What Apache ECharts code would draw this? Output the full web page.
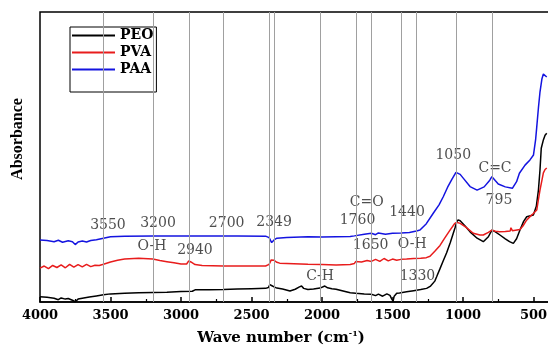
<!DOCTYPE html>
<html>
<head>
<meta charset="utf-8">
<script src="https://cdn.jsdelivr.net/npm/echarts@6/dist/echarts.min.js"></script>
<style>
  html, body { margin: 0; padding: 0; background: #fff; }
  #main { width: 548px; height: 350px; }
</style>
</head>
<body>
<div id="main"></div>
<script>
// wave number (cm-1) / absorbance pairs
var peoData = [[4000,0.18],[3950,0.16],[3900,0.13],[3870,0.08],[3850,0.14],[3820,0.10],[3800,0.12],[3770,0.06],[3750,0.01],[3730,0.10],[3700,0.13],[3650,0.17],[3600,0.21],[3550,0.25],[3500,0.28],[3400,0.30],[3300,0.32],[3200,0.33],[3100,0.34],[3000,0.36],[2920,0.37],[2900,0.42],[2800,0.42],[2700,0.43],[2600,0.45],[2500,0.46],[2400,0.47],[2380,0.50],[2370,0.60],[2355,0.56],[2340,0.52],[2320,0.48],[2280,0.45],[2227,0.38],[2190,0.44],[2160,0.52],[2145,0.55],[2130,0.47],[2100,0.43],[2060,0.45],[2014,0.48],[2000,0.51],[1980,0.55],[1960,0.49],[1930,0.46],[1900,0.44],[1850,0.38],[1800,0.32],[1760,0.30],[1700,0.28],[1650,0.27],[1620,0.22],[1600,0.27],[1570,0.20],[1540,0.28],[1518,0.23],[1505,0.10],[1496,0.03],[1488,0.20],[1470,0.30],[1450,0.31],[1400,0.35],[1350,0.39],[1300,0.43],[1258,0.47],[1230,0.55],[1200,0.72],[1187,0.87],[1163,1.15],[1140,1.42],[1116,1.70],[1090,2.05],[1070,2.35],[1057,2.55],[1045,2.75],[1035,2.83],[1020,2.80],[990,2.65],[950,2.42],[900,2.20],[856,2.08],[820,2.25],[795,2.48],[770,2.42],[738,2.31],[700,2.18],[670,2.08],[643,2.02],[620,2.18],[596,2.48],[570,2.78],[548,2.94],[501,3.0],[480,3.3],[465,3.86],[454,4.55],[445,5.3],[430,5.59],[418,5.75],[406,5.82]];

var pvaData = [[4000,1.17],[3970,1.24],[3940,1.15],[3910,1.26],[3880,1.19],[3850,1.28],[3820,1.18],[3790,1.30],[3760,1.20],[3730,1.29],[3700,1.21],[3670,1.30],[3640,1.22],[3610,1.27],[3580,1.26],[3550,1.30],[3500,1.38],[3450,1.44],[3400,1.48],[3300,1.51],[3200,1.48],[3150,1.43],[3100,1.39],[3050,1.35],[3000,1.31],[2960,1.31],[2945,1.42],[2930,1.38],[2900,1.29],[2850,1.26],[2700,1.24],[2500,1.24],[2400,1.24],[2375,1.30],[2360,1.45],[2340,1.44],[2320,1.37],[2300,1.34],[2200,1.32],[2100,1.30],[2000,1.29],[1900,1.28],[1800,1.29],[1770,1.33],[1760,1.40],[1720,1.38],[1680,1.43],[1650,1.40],[1620,1.47],[1590,1.40],[1560,1.50],[1530,1.42],[1500,1.48],[1470,1.44],[1440,1.47],[1400,1.48],[1350,1.50],[1300,1.51],[1260,1.53],[1234,1.58],[1200,1.75],[1163,1.95],[1130,2.20],[1092,2.48],[1060,2.70],[1045,2.75],[1020,2.71],[980,2.58],[927,2.37],[880,2.31],[856,2.31],[820,2.40],[795,2.48],[770,2.44],[740,2.42],[700,2.43],[665,2.45],[660,2.56],[650,2.46],[596,2.50],[575,2.62],[549,2.82],[520,2.97],[501,3.05],[477,3.17],[466,3.5],[454,3.86],[440,4.2],[430,4.45],[418,4.57],[406,4.62]];

var paaData = [[4000,2.14],[3950,2.12],[3900,2.08],[3870,2.13],[3840,2.06],[3800,2.11],[3770,2.08],[3750,1.98],[3730,2.07],[3700,2.10],[3670,2.07],[3640,2.12],[3600,2.15],[3550,2.20],[3500,2.25],[3400,2.27],[3200,2.28],[3000,2.28],[2800,2.28],[2600,2.28],[2400,2.27],[2375,2.22],[2357,2.05],[2340,2.14],[2320,2.20],[2250,2.22],[2100,2.25],[2000,2.24],[1900,2.25],[1800,2.26],[1770,2.28],[1760,2.33],[1700,2.34],[1650,2.37],[1620,2.32],[1600,2.38],[1550,2.34],[1500,2.37],[1440,2.38],[1380,2.40],[1330,2.45],[1305,2.48],[1260,2.70],[1211,3.06],[1170,3.35],[1140,3.63],[1110,3.95],[1080,4.22],[1050,4.47],[1020,4.40],[1000,4.28],[950,3.98],[900,3.86],[850,3.97],[810,4.20],[795,4.32],[770,4.18],[750,4.07],[700,3.97],[650,3.92],[620,4.15],[600,4.44],[560,4.72],[525,4.90],[500,5.07],[485,5.6],[477,6.03],[465,6.7],[454,7.24],[440,7.7],[430,7.86],[418,7.90],[406,7.76]];

// gray guide lines
var peakLines = [3550, 3200, 2940, 2700, 2375, 2340, 2010, 1760, 1650, 1440, 1330, 1050, 795];

// [wave number, absorbance, text]
var notes = [
  [3518, 2.66, '3550'], [3163, 2.71, '3200'], [2676, 2.71, '2700'], [2340, 2.76, '2349'],
  [3206, 1.91, 'O-H'], [2901, 1.79, '2940'],
  [1683, 3.43, 'C=O'], [1748, 2.83, '1760'], [1397, 3.10, '1440'],
  [1655, 1.96, '1650'], [1360, 1.99, 'O-H'],
  [2014, 0.87, 'C-H'], [1323, 0.87, '1330'],
  [1069, 5.07, '1050'], [773, 4.61, 'C=C'], [745, 3.52, '795']
];

var seriesNames = ['PEO', 'PVA', 'PAA'];
var seriesColors = ['#000000', '#e81c1c', '#1414e0'];

var myChart = echarts.init(document.getElementById('main'));

var lineSeries = [peoData, pvaData, paaData].map(function(d, i) {
  return {
    name: seriesNames[i],
    type: 'line',
    data: d,
    showSymbol: false,
    symbol: 'none',
    z: 3,
    lineStyle: { color: seriesColors[i], width: 1.5 },
    itemStyle: { color: seriesColors[i] }
  };
});

option = {
  animation: false,
  backgroundColor: '#fff',
  // axis runs to 0, which falls past the right edge of the picture
  grid: {
    left: 40, width: 564, top: 12, height: 290,
    outerBoundsMode: 'none', containLabel: false,
    show: true, borderColor: '#000', borderWidth: 1.5
  },
  legend: {
    data: seriesNames,
    orient: 'vertical',
    left: 70, top: 27,
    icon: 'rect',
    itemWidth: 43, itemHeight: 2, itemGap: 2,
    padding: [1, 3, 15, 2],
    borderColor: '#000', borderWidth: 1,
    textStyle: { fontFamily: 'DejaVu Serif', fontWeight: 'bold', fontSize: 14, color: '#000', lineHeight: 15 }
  },
  xAxis: {
    type: 'value', inverse: true, min: 0, max: 4000, interval: 500,
    name: 'Wave number (cm{s|-1})', nameLocation: 'middle', nameGap: 28,
    nameTextStyle: {
      fontFamily: 'DejaVu Serif', fontWeight: 'bold', fontSize: 15, color: '#000', padding: [0, 82, 0, 0],
      rich: { s: { fontFamily: 'DejaVu Serif', fontWeight: 'bold', fontSize: 8, color: '#000', verticalAlign: 'top', padding: [0, 0, 8, 0] } }
    },
    axisLine: { lineStyle: { color: '#000', width: 1.5 } },
    axisTick: { inside: true, length: 5, lineStyle: { color: '#000', width: 1.5 } },
    minorTick: { show: true, splitNumber: 2, length: 3, lineStyle: { color: '#000', width: 1.2 } },
    axisLabel: {
      fontFamily: 'DejaVu Serif', fontWeight: 'bold', fontSize: 13, color: '#000', margin: 7,
      formatter: function(v) { return String(v); }
    },
    splitLine: { show: false }
  },
  yAxis: {
    type: 'value', min: 0, max: 10, interval: 1,
    name: 'Absorbance', nameLocation: 'middle', nameGap: 14,
    nameTextStyle: { fontFamily: 'Liberation Serif', fontWeight: 'bold', fontSize: 16, color: '#000', padding: [0, 0, 0, 36] },
    axisLine: { lineStyle: { color: '#000', width: 1.5 } },
    axisTick: { inside: true, length: 8, lineStyle: { color: '#000', width: 1.2 } },
    minorTick: { show: true, splitNumber: 2, length: 5, lineStyle: { color: '#000', width: 1.2 } },
    axisLabel: { show: false },
    splitLine: { show: false }
  },
  series: lineSeries.concat([{
    name: 'notes',
    type: 'scatter',
    z: 1,
    symbolSize: 0,
    silent: true,
    data: notes,
    label: {
      show: true, position: 'inside',
      formatter: function(p) { return p.data[2]; },
      fontFamily: 'DejaVu Serif', fontSize: 14, color: '#222'
    },
    markLine: {
      silent: true, symbol: ['none', 'none'], label: { show: false },
      lineStyle: { color: '#a0a0a0', width: 1, type: 'solid' },
      data: peakLines.map(function(w) { return { xAxis: w }; })
    }
  }])
};

myChart.setOption(option);
</script>
</body>
</html>
